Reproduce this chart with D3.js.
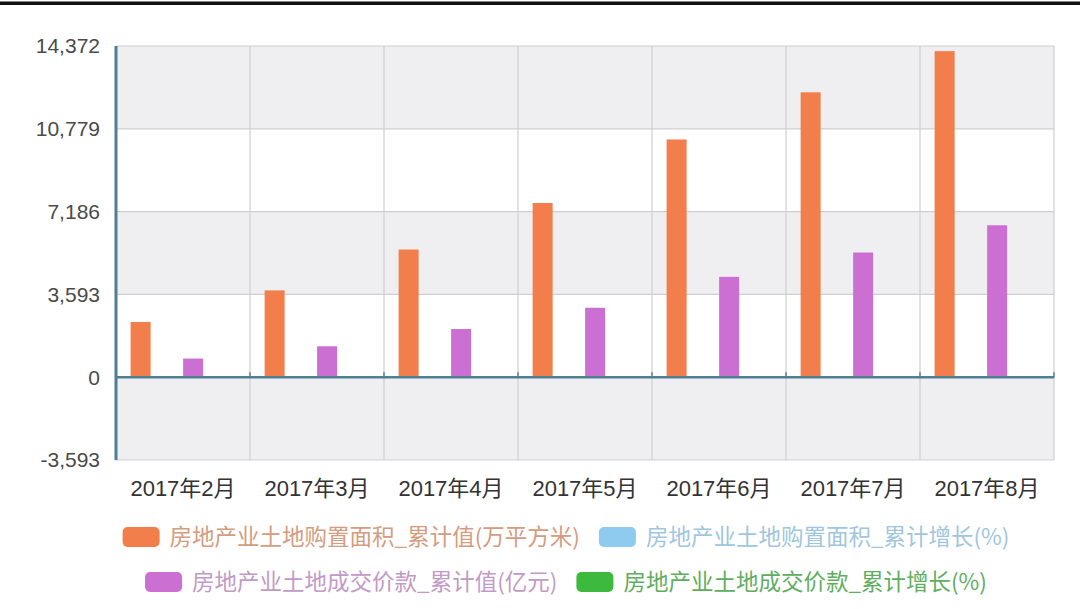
<!DOCTYPE html>
<html><head><meta charset="utf-8">
<script src="https://cdn.jsdelivr.net/npm/d3@7"></script>
<style>
html,body{margin:0;padding:0;background:#fff;}
svg{display:block;}
</style></head>
<body>
<svg id="chart" width="1080" height="609"></svg>
<script>
const categories = ["2017年2月","2017年3月","2017年4月","2017年5月","2017年6月","2017年7月","2017年8月"];
const seriesNames = [
  "房地产业土地购置面积_累计值(万平方米)",
  "房地产业土地购置面积_累计增长(%)",
  "房地产业土地成交价款_累计值(亿元)",
  "房地产业土地成交价款_累计增长(%)"
];
const areaCum = [2394, 3766, 5541, 7558, 10316, 12363, 14150];
const areaGrowth = [null, null, null, null, null, null, null];
const priceCum = [809, 1342, 2091, 3013, 4355, 5411, 6593];
const priceGrowth = [null, null, null, null, null, null, null];
const yTicks = [-3593, 0, 3593, 7186, 10779, 14372];

(function(){
const seriesValues = [areaCum, areaGrowth, priceCum, priceGrowth];
const colors = ["#f27e4c", "#8ecbef", "#cc6fd2", "#3db93d"];
const textColors = ["#d49c80", "#9fc6de", "#c29ac6", "#5fae5f"];

const svg = d3.select("#chart");
const W = 1080, H = 609;
const mLeft = 116, mRight = 1054, mTop = 46, mBottom = 460;

svg.append("rect").attr("x",0).attr("y",0).attr("width",W).attr("height",H).attr("fill","#fff");
svg.append("rect").attr("x",0).attr("y",1.5).attr("width",W).attr("height",3.5).attr("fill","#111");

const x0 = d3.scaleBand().domain(categories).range([mLeft, mRight]).padding(0);
const x1 = d3.scaleBand().domain(seriesNames).range([11.5, 116.5]);
const y = d3.scaleLinear().domain([yTicks[0], yTicks[yTicks.length-1]]).range([mBottom, mTop]);

const bands = svg.append("g");
for (let i = 0; i < yTicks.length - 1; i++) {
  bands.append("rect")
    .attr("x", mLeft).attr("width", mRight - mLeft)
    .attr("y", y(yTicks[i+1])).attr("height", y(yTicks[i]) - y(yTicks[i+1]))
    .attr("fill", (yTicks.length - 2 - i) % 2 === 0 ? "#efeff1" : "#ffffff");
}

svg.append("g").selectAll("line").data(yTicks).join("line")
  .attr("x1", mLeft).attr("x2", mRight)
  .attr("y1", d => y(d)).attr("y2", d => y(d))
  .attr("stroke", "#cfcfd2").attr("stroke-width", 1.2);

const vlines = categories.map(c => x0(c)).concat([mRight]);
svg.append("g").selectAll("line").data(vlines).join("line")
  .attr("x1", d => d).attr("x2", d => d)
  .attr("y1", mTop).attr("y2", mBottom)
  .attr("stroke", "#cfcfd2").attr("stroke-width", 1.2);

const barW = 20;
const g = svg.append("g");
seriesNames.forEach((s, si) => {
  categories.forEach((c, ci) => {
    const v = seriesValues[si][ci];
    if (v == null) return;
    g.append("rect")
      .attr("x", x0(c) + x1(s) + (x1.bandwidth() - barW) / 2)
      .attr("width", barW)
      .attr("y", Math.min(y(v), y(0)))
      .attr("height", Math.abs(y(0) - y(v)))
      .attr("fill", colors[si]);
  });
});

const axisColor = "#4f7f92";
svg.append("line").attr("x1", mLeft).attr("x2", mRight)
  .attr("y1", y(0)).attr("y2", y(0))
  .attr("stroke", axisColor).attr("stroke-width", 2.5);
svg.append("g").selectAll("line").data(vlines).join("line")
  .attr("x1", d => d).attr("x2", d => d)
  .attr("y1", y(0) - 5).attr("y2", y(0))
  .attr("stroke", axisColor).attr("stroke-width", 1.5);
svg.append("line").attr("x1", mLeft).attr("x2", mLeft)
  .attr("y1", mTop).attr("y2", mBottom)
  .attr("stroke", axisColor).attr("stroke-width", 3);

const fmt = d3.format(",");
svg.append("g").selectAll("text").data(yTicks).join("text")
  .attr("x", 100).attr("y", d => y(d))
  .attr("dy", "0.35em")
  .attr("text-anchor", "end")
  .attr("font-family", "Liberation Sans, Arial, sans-serif")
  .attr("font-size", 21)
  .attr("fill", "#4a4a4a")
  .text(d => fmt(d).replace("\u2212", "-"));

svg.append("g").selectAll("text").data(categories).join("text")
  .attr("x", d => x0(d) + x0.bandwidth() / 2)
  .attr("y", 496)
  .attr("text-anchor", "middle")
  .attr("font-family", "Liberation Sans, 'Noto Sans CJK SC', sans-serif")
  .attr("font-size", 22)
  .attr("fill", "#333")
  .text(d => d);

const rows = [[0, 1], [2, 3]];
const rowY = [537, 582];
const swW = 37, swH = 20, gapT = 10, gapItem = 19;
const legend = svg.append("g");
rows.forEach((row, ri) => {
  const items = row.map(si => {
    const gi = legend.append("g");
    gi.append("rect").attr("width", swW).attr("height", swH).attr("rx", 5)
      .attr("y", rowY[ri] - swH / 2).attr("fill", colors[si]);
    const t = gi.append("text")
      .attr("x", swW + gapT).attr("y", rowY[ri]).attr("dy", "0.36em")
      .attr("font-family", "'Noto Sans CJK SC', sans-serif")
      .attr("font-size", 22.5)
      .attr("fill", textColors[si])
      .text(seriesNames[si]);
    const w = swW + gapT + t.node().getComputedTextLength();
    return {gi, w};
  });
  const total = d3.sum(items, d => d.w) + gapItem * (items.length - 1);
  let cx = 566 - total / 2;
  items.forEach(it => {
    it.gi.attr("transform", `translate(${cx},0)`);
    cx += it.w + gapItem;
  });
});
})();
</script>
</body></html>
